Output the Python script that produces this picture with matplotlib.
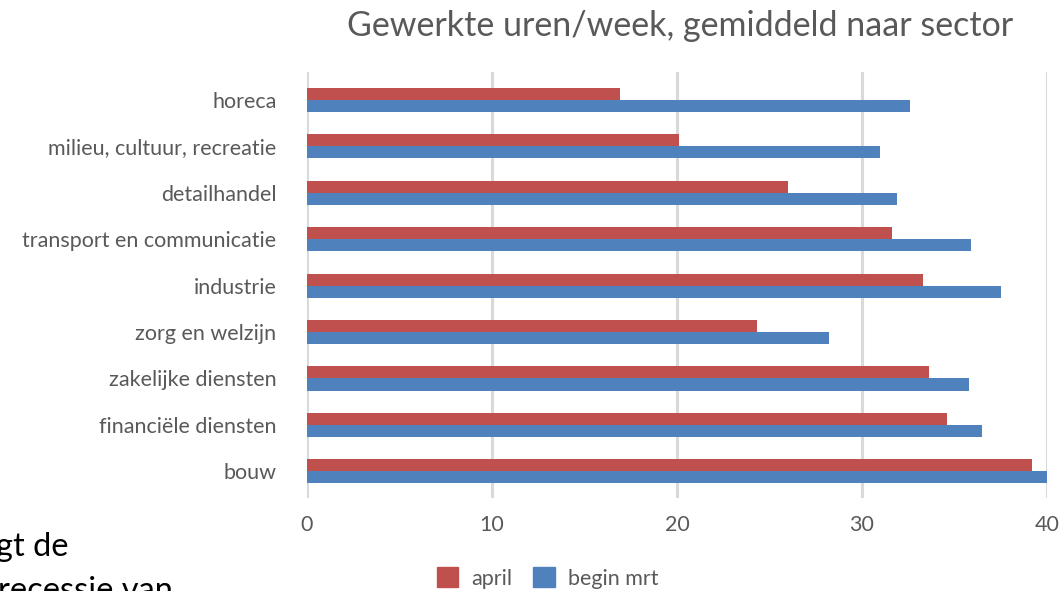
import matplotlib.pyplot as plt
from matplotlib.patches import Patch

plt.rcParams.update({
    "font.family": ["Lato", "DejaVu Sans"],
    "font.size": 12,
})

sectors = ["horeca", "milieu, cultuur, recreatie", "detailhandel",
           "transport en communicatie", "industrie", "zorg en welzijn",
           "zakelijke diensten", "financiële diensten", "bouw"]
april = [16.9, 20.1, 26.0, 31.6, 33.3, 24.3, 33.6, 34.6, 39.2]
begin_mrt = [32.6, 31.0, 31.9, 35.9, 37.5, 28.2, 35.8, 36.5, 40.0]
xticks = [0, 10, 20, 30, 40]

red = "#C0504D"
blue = "#4F81BD"
grey = "#595959"

fig = plt.figure(figsize=(10.61, 5.91), dpi=100)
ax = fig.add_axes([0.2893, 0.157, 0.6975, 0.721])

h = 0.26
pos = list(range(len(sectors)))
ax.barh([p - h / 2 for p in pos], april, height=h, color=red, zorder=3)
ax.barh([p + h / 2 for p in pos], begin_mrt, height=h, color=blue, zorder=3)

ax.set_xlim(0, 40)
ax.set_ylim(8.58, -0.6)
ax.set_xticks(xticks)
ax.set_yticks(pos)
ax.set_yticklabels(sectors)
ax.tick_params(length=0, colors=grey, labelsize=15.5)
ax.tick_params(axis="y", pad=22)
ax.tick_params(axis="x", pad=12)
for s in ax.spines.values():
    s.set_visible(False)
ax.grid(axis="x", color="#d9d9d9", linewidth=2.2, zorder=0)

fig.text(0.641, 0.956, "Gewerkte uren/week, gemiddeld naar sector",
         ha="center", va="center", fontsize=24.5, color=grey)

handles = [Patch(color=red, label="april"), Patch(color=blue, label="begin mrt")]
fig.legend(handles=handles, loc="center", bbox_to_anchor=(0.516, 0.022),
           ncol=2, frameon=False, fontsize=15.5, labelcolor=grey,
           handlelength=1.0, handleheight=1.0, columnspacing=1.0,
           handletextpad=0.6)

# bits of slide text left of the chart
fig.text(-0.004, 0.06, "gt de", fontsize=23.5, color="black", va="baseline")
fig.text(-0.002, -0.015, "recessie van", fontsize=23.5, color="black", va="baseline")

fig.savefig("out.png", dpi=100)
